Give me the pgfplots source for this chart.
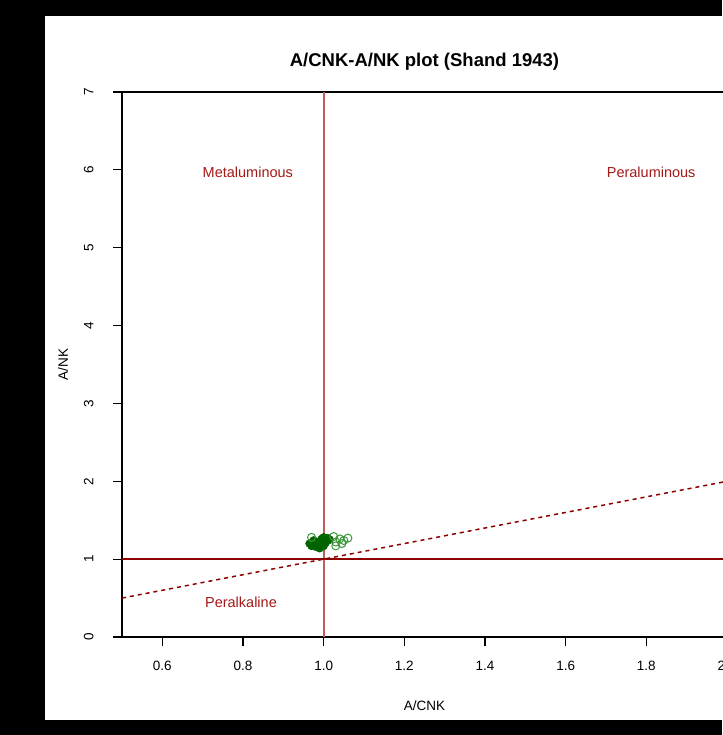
\documentclass[border=0pt]{standalone}
\usepackage{pgfplots}
\pgfplotsset{compat=1.18}
\usepackage{fontspec}
\setmainfont{Liberation Sans}
\definecolor{vline}{RGB}{195,90,95}
\definecolor{hline}{RGB}{140,0,0}
\definecolor{lbl}{RGB}{165,25,25}
\definecolor{dgreen}{RGB}{0,100,0}
\definecolor{lgreen}{RGB}{60,150,60}
\begin{document}
\begin{tikzpicture}[x=1pt,y=1pt]
\fill[black] (0,0) rectangle (722,735);
\fill[white] (45,15) rectangle (760,719);
\begin{axis}[
  at={(122pt,98pt)}, anchor=south west,
  scale only axis, width=605pt, height=545pt,
  xmin=0.5, xmax=2.0, ymin=0, ymax=7,
  xtick={0.6,0.8,1.0,1.2,1.4,1.6,1.8,2.0},
  ytick={0,1,2,3,4,5,6,7},
  x tick label style={/pgf/number format/fixed, /pgf/number format/fixed zerofill, /pgf/number format/precision=1, yshift=-12pt},
  yticklabel style={rotate=90, anchor=south, yshift=16pt},
  tick align=outside, tick pos=left,
  major tick length=9pt,
  every tick/.style={black, line width=1.2pt},
  axis line style={line width=1.2pt},
  ticklabel style={font=\fontsize{13.5}{15}\selectfont},
  /pgf/number format/assume math mode=true,
  title={\bfseries A/CNK-A/NK plot (Shand 1943)},
  title style={font=\fontsize{18.5}{20}\selectfont, yshift=12pt},
  xlabel={A/CNK}, ylabel={A/NK},
  label style={font=\fontsize{13.5}{15}\selectfont},
  xlabel style={yshift=-23pt},
  ylabel style={yshift=9pt},
  clip=true,
]
\addplot[vline, line width=2pt] coordinates {(1.0,0) (1.0,7)};
\addplot[hline, line width=1.6pt] coordinates {(0.5,1.0) (2.0,1.0)};
\addplot[hline, line width=1.5pt, dash pattern=on 4pt off 4pt] coordinates {(0.5,0.5) (2.0,2.0)};
\addplot[only marks, mark=*, mark size=4pt, draw=dgreen, fill=dgreen] coordinates {
(0.965,1.20) (0.975,1.24) (0.985,1.22) (0.995,1.26) (1.005,1.21) (1.00,1.17)
(0.98,1.16) (1.015,1.25) (1.00,1.28) (0.99,1.14) (1.01,1.27) (0.97,1.17)
};
\addplot[only marks, mark=o, mark size=4pt, draw=lgreen, line width=1pt] coordinates {
(1.03,1.22) (1.04,1.26) (1.05,1.24) (1.06,1.27) (1.03,1.17) (0.97,1.28) (1.025,1.29) (1.045,1.20)
};
\node[lbl, font=\fontsize{14.5}{16}\selectfont] at (axis cs:0.812,5.97) {Metaluminous};
\node[lbl, font=\fontsize{14.5}{16}\selectfont] at (axis cs:1.812,5.97) {Peraluminous};
\node[lbl, font=\fontsize{14.5}{16}\selectfont] at (axis cs:0.795,0.45) {Peralkaline};
\end{axis}
\pgfresetboundingbox
\path[use as bounding box] (0,0) rectangle (722,735);
\end{tikzpicture}
\end{document}
